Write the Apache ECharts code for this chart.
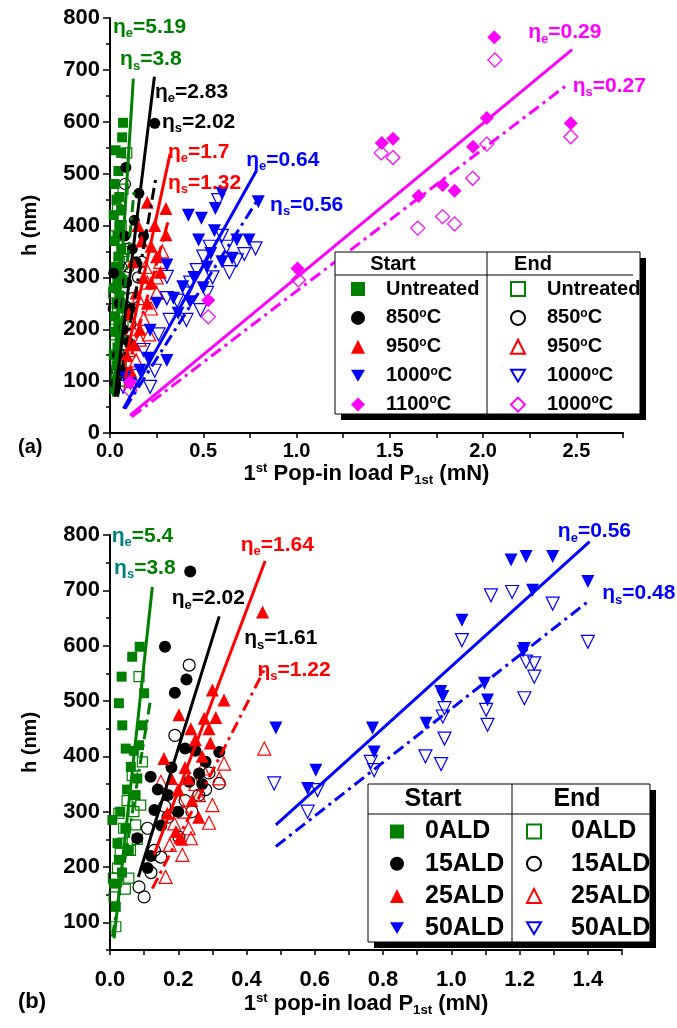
<!DOCTYPE html>
<html>
<head>
<meta charset="utf-8">
<script src="https://cdn.jsdelivr.net/npm/echarts@6/dist/echarts.min.js"></script>
<style>
  html, body { margin: 0; padding: 0; background: #fff; }
  #chart { width: 677px; height: 1028px; }
</style>
</head>
<body>
<div id="chart"></div>
<script>
// ---------- panel (a): h (nm) vs 1st pop-in load (mN), start / end ----------
const aUntreatedStart = [[0.07,598],[0.065,570],[0.03,545],[0.06,540],[0.045,505],[0.025,480],[0.05,455],[0.035,450],[0.06,430],[0.02,420],[0.05,400],[0.04,380],[0.025,370],[0.06,355],[0.045,340],[0.03,320],[0.055,300],[0.04,290],[0.02,280],[0.05,265],[0.035,250],[0.06,240],[0.025,225],[0.045,210],[0.03,195],[0.055,180],[0.04,165],[0.02,150],[0.035,130],[0.05,115],[0.03,100],[0.025,85]];
const aUntreatedEnd = [[0.09,540],[0.07,470],[0.04,430],[0.06,400],[0.03,380],[0.075,350],[0.05,330],[0.035,310],[0.065,290],[0.02,270],[0.05,250],[0.04,230],[0.07,215],[0.03,200],[0.055,185],[0.025,170],[0.045,150],[0.06,135],[0.035,120],[0.05,100]];
const a850Start = [[0.24,597],[0.085,512],[0.155,462],[0.02,308],[0.12,355],[0.05,250],[0.09,290],[0.14,330],[0.07,200],[0.11,240],[0.04,150],[0.06,120],[0.1,175],[0.03,95],[0.13,410],[0.18,380],[0.08,380]];
const a850End = [[0.08,480],[0.02,240],[0.03,280],[0.15,300],[0.07,150],[0.1,320],[0.05,200],[0.12,260],[0.04,120],[0.09,355],[0.06,320],[0.11,210],[0.17,330]];
const a950Start = [[0.3,433],[0.3,382],[0.2,445],[0.15,400],[0.22,360],[0.12,330],[0.18,300],[0.25,340],[0.14,270],[0.2,250],[0.1,230],[0.16,200],[0.13,170],[0.22,290],[0.27,310],[0.09,150],[0.17,370],[0.11,120],[0.24,400]];
const a950End = [[0.27,330],[0.25,300],[0.2,290],[0.15,260],[0.22,240],[0.18,220],[0.12,200],[0.16,180],[0.1,160],[0.14,140],[0.21,190],[0.08,120],[0.25,270],[0.19,320],[0.11,100],[0.28,350]];
const a1000Start = [[0.42,420],[0.49,414],[0.565,433],[0.6,462],[0.795,446],[0.68,372],[0.475,372],[0.54,346],[0.655,337],[0.305,324],[0.39,282],[0.43,253],[0.215,198],[0.205,144],[0.305,140],[0.08,108],[0.16,121],[0.365,231],[0.52,320],[0.745,372],[0.6,330],[0.45,300],[0.34,260],[0.5,280],[0.25,250],[0.56,390],[0.11,95]];
const a1000End = [[0.58,449],[0.78,356],[0.625,359],[0.465,314],[0.41,269],[0.5,340],[0.305,301],[0.305,260],[0.18,160],[0.215,89],[0.07,89],[0.41,218],[0.485,237],[0.68,333],[0.535,359],[0.36,255],[0.32,218],[0.52,270],[0.64,310],[0.72,345],[0.26,190],[0.15,110],[0.55,300],[0.43,290],[0.24,120],[0.6,380]];
const a1100Start = [[2.06,763],[2.02,607],[2.47,597],[1.517,567],[1.457,559],[1.946,552],[1.654,457],[1.783,478],[1.847,467],[1.005,317],[0.527,256],[0.107,98]];
const a1100End = [[2.063,719],[2.02,557],[2.47,571],[1.454,540],[1.517,531],[1.944,491],[1.65,395],[1.783,417],[1.847,403],[1.01,295],[0.527,224],[0.107,82]];

// fitted lines (a): [start point, end point]
const aFitUntreatedStart = [[0.018,70],[0.125,683]];
const aFitUntreatedEnd = [[0.03,90],[0.13,470]];
const aFit850Start = [[0.027,70],[0.238,687]];
const aFit850End = [[0.04,70],[0.245,490]];
const aFit950Start = [[0.08,134],[0.322,538]];
const aFit950End = [[0.08,105],[0.313,410]];
const aFit1000Start = [[0.072,47],[0.787,507]];
const aFit1000End = [[0.08,47],[0.796,452]];
const aFit1100Start = [[0.107,34],[2.477,739]];
const aFit1100End = [[0.116,31],[2.45,671]];

// annotations (a): [x, y, subscript, value]
const aNotesGreen = [[0.016,783,'e','5.19'],[0.054,720,'s','3.8']];
const aNotesBlack = [[0.241,657,'e','2.83'],[0.279,599,'s','2.02']];
const aNotesRed = [[0.311,542,'e','1.7'],[0.311,482,'s','1.32']];
const aNotesBlue = [[0.73,526,'e','0.64'],[0.858,440,'s','0.56']];
const aNotesMagenta = [[2.242,772,'e','0.29'],[2.48,669,'s','0.27']];

const aXTicks = [0, 0.5, 1.0, 1.5, 2.0, 2.5];
const aYTicks = [0, 100, 200, 300, 400, 500, 600, 700, 800];

// ---------- panel (b) ----------
const b0Start = [[0.087,598],[0.065,580],[0.034,544],[0.1,514],[0.026,496],[0.036,456],[0.095,456],[0.046,414],[0.07,410],[0.061,381],[0.08,360],[0.05,340],[0.007,285],[0.03,300],[0.022,243],[0.045,270],[0.026,213],[0.012,170],[0.017,128],[0.055,230],[0.035,190],[0.085,420],[0.075,330]];
const b0End = [[0.085,544],[0.095,390],[0.09,312],[0.026,297],[0.036,243],[0.022,198],[0.012,146],[0.017,92],[0.075,276],[0.05,320],[0.065,365],[0.04,270],[0.06,230],[0.03,225],[0.055,180],[0.045,160],[0.07,300],[0.01,180],[0.08,250]];
const b15Start = [[0.235,734],[0.161,598],[0.224,539],[0.19,515],[0.22,414],[0.32,408],[0.119,363],[0.08,252],[0.11,198],[0.261,369],[0.232,354],[0.13,303],[0.17,330],[0.15,275],[0.2,300],[0.14,340],[0.27,350],[0.25,410],[0.12,220],[0.18,380],[0.28,390]];
const b15End = [[0.232,565],[0.19,438],[0.32,351],[0.085,164],[0.1,146],[0.149,218],[0.202,254],[0.13,230],[0.17,290],[0.22,320],[0.26,330],[0.11,270],[0.29,370],[0.16,310],[0.12,190],[0.24,300],[0.28,340]];
const b25Start = [[0.447,661],[0.334,502],[0.3,520],[0.202,475],[0.237,450],[0.276,469],[0.294,424],[0.158,396],[0.193,264],[0.168,297],[0.22,380],[0.25,430],[0.27,400],[0.2,340],[0.24,320],[0.18,360],[0.29,450],[0.26,290],[0.21,250],[0.31,470],[0.23,360]];
const b25End = [[0.452,414],[0.334,387],[0.271,378],[0.149,354],[0.3,312],[0.217,300],[0.188,279],[0.237,252],[0.212,222],[0.163,182],[0.26,330],[0.32,360],[0.29,280],[0.2,320],[0.25,350],[0.23,270],[0.175,240]];
const b50Start = [[0.486,451],[0.603,375],[0.579,342],[1.175,755],[1.219,761],[1.297,761],[1.4,716],[1.238,700],[1.031,646],[0.969,517],[0.975,508],[1.106,502],[1.097,532],[1.214,595],[0.926,460],[0.769,451],[0.774,408],[1.21,590]];
const b50End = [[0.481,351],[0.608,339],[0.579,300],[1.116,691],[1.178,697],[1.297,676],[1.4,607],[1.031,610],[1.219,571],[1.243,568],[1.243,544],[1.214,505],[1.102,484],[1.106,457],[0.98,487],[0.975,472],[0.98,432],[0.924,400],[0.97,386],[0.764,390],[0.774,375]];

const bFit0Start = [[0.012,71],[0.124,706]];
const bFit0End = [[0.007,74],[0.118,500]];
const bFit15Start = [[0.083,182],[0.32,653]];
const bFit25Start = [[0.129,222],[0.4545,753]];
const bFit25End = [[0.124,161],[0.4516,556]];
const bFit50Start = [[0.486,276],[1.405,788]];
const bFit50End = [[0.486,237],[1.405,682]];

const bNotesGreen = [[0.005,798,'e','5.4'],[0.012,740,'s','3.8']];
const bNotesBlack = [[0.181,685,'e','2.02'],[0.393,613,'s','1.61']];
const bNotesRed = [[0.383,782,'e','1.64'],[0.432,556,'s','1.22']];
const bNotesBlue = [[1.312,806,'e','0.56'],[1.442,694,'s','0.48']];

const bXTicks = [0, 0.2, 0.4, 0.6, 0.8, 1.0, 1.2, 1.4];
const bYTicks = [100, 200, 300, 400, 500, 600, 700, 800];

// ---------- styling ----------
const FONT = '"Liberation Sans", Arial, sans-serif';
const GREEN = '#008000', BLACK = '#000000', RED = '#ff0000', BLUE = '#0000ff', MAGENTA = '#ff00ff', TEAL = '#008080';
const DASHDOT = [12, 5, 3, 5];
const DOWN_TRI = 'path://M0,0L20,0L10,17Z';

const chart = echarts.init(document.getElementById('chart'), null, { renderer: 'canvas' });

function pts(gi, name, data, symbol, color, filled, size, rotate) {
  return {
    type: 'scatter', name: name, xAxisIndex: gi, yAxisIndex: gi,
    data: data, symbol: symbol, symbolSize: size, symbolRotate: rotate || 0,
    itemStyle: filled
      ? { color: color, opacity: 1 }
      : { color: 'rgba(255,255,255,0)', borderColor: color, borderWidth: 1.2, opacity: 1 },
    z: filled ? 3 : 2, silent: true, animation: false
  };
}

function fit(gi, data, color, dashed) {
  return {
    type: 'line', xAxisIndex: gi, yAxisIndex: gi, data: data, symbol: 'none',
    lineStyle: { color: color, width: 3, type: dashed ? DASHDOT : 'solid', cap: 'butt' },
    z: 4, silent: true, animation: false
  };
}

function notes(gi, list, color, etaColor, fs) {
  return {
    type: 'scatter', xAxisIndex: gi, yAxisIndex: gi, symbolSize: 0, clip: false,
    silent: true, animation: false, z: 6,
    itemStyle: { opacity: 1 },
    data: list.map(n => ({ value: [n[0], n[1]], sub: n[2], val: n[3] })),
    label: {
      show: true, position: 'right', distance: 0, opacity: 1,
      formatter: p => '{e|η}{s|' + p.data.sub + '}{v|=' + p.data.val + '}',
      rich: {
        e: { fontSize: fs, fontWeight: 'bold', fontFamily: FONT, color: etaColor || color, lineHeight: 26 },
        s: { fontSize: fs * 0.62, fontWeight: 'bold', fontFamily: FONT, color: etaColor || color, lineHeight: 13, padding: [13, 0, 0, 0] },
        v: { fontSize: fs, fontWeight: 'bold', fontFamily: FONT, color: color, lineHeight: 26 }
      }
    }
  };
}

function near(v, list) { return list.some(t => Math.abs(t - v) < 1e-6); }

const axisText = { color: '#000', fontWeight: 'bold', fontFamily: FONT };
const supRich = (fs) => ({
  sup: { fontSize: fs * 0.6, fontWeight: 'bold', fontFamily: FONT, color: '#000', padding: [0, 0, fs * 0.5, 0] },
  sub: { fontSize: fs * 0.6, fontWeight: 'bold', fontFamily: FONT, color: '#000', padding: [fs * 0.55, 0, 0, 0] },
  n: { fontSize: fs, fontWeight: 'bold', fontFamily: FONT, color: '#000' }
});

const LABELS = {
  a_s0: 'Untreated', a_s1: '850{sup|o}C', a_s2: '950{sup|o}C', a_s3: '1000{sup|o}C', a_s4: '1100{sup|o}C',
  a_e0: 'Untreated', a_e1: '850{sup|o}C', a_e2: '950{sup|o}C', a_e3: '1000{sup|o}C', a_e4: '1000{sup|o}C',
  b_s0: '0ALD', b_s1: '15ALD', b_s2: '25ALD', b_s3: '50ALD',
  b_e0: '0ALD', b_e1: '15ALD', b_e2: '25ALD', b_e3: '50ALD'
};
// legend entries drawn with a downward triangle
const DOWN_NAMES = ['a_s3', 'a_e3', 'b_s3', 'b_e3'];

function legendBlock(names, left, top, fs, gap, textPad) {
  return {
    data: names.map(n => DOWN_NAMES.includes(n) ? { name: n, icon: DOWN_TRI } : { name: n }),
    left: left, top: top, orient: 'vertical', padding: 0,
    itemWidth: 14, itemHeight: 14, itemGap: gap, selectedMode: false, z: 20,
    formatter: n => LABELS[n],
    textStyle: {
      fontSize: fs, fontWeight: 'bold', fontFamily: FONT, color: '#000', lineHeight: fs,
      padding: [0, 0, 0, textPad],
      rich: { sup: { fontSize: fs * 0.6, fontWeight: 'bold', fontFamily: FONT, color: '#000', padding: [0, 0, fs * 0.45, 0] } }
    }
  };
}

function legendBox(x, y, w, h, divX, lineY, lineEnd, hx1, hx2, hy, fs) {
  return [
    { type: 'rect', z: 15, shape: { x: x + 6, y: y + 6, width: w, height: h }, style: { fill: '#000' } },
    { type: 'rect', z: 16, shape: { x: x, y: y, width: w, height: h }, style: { fill: '#fff', stroke: '#000', lineWidth: 1 } },
    { type: 'line', z: 17, shape: { x1: x, y1: lineY, x2: lineEnd, y2: lineY }, style: { stroke: '#000', lineWidth: 1 } },
    { type: 'line', z: 17, shape: { x1: divX, y1: y, x2: divX, y2: y + h }, style: { stroke: '#000', lineWidth: 1 } },
    { type: 'text', z: 17, x: hx1, y: hy, style: { text: 'Start', font: 'bold ' + fs + 'px ' + FONT, fill: '#000', align: 'center', verticalAlign: 'middle' } },
    { type: 'text', z: 17, x: hx2, y: hy, style: { text: 'End', font: 'bold ' + fs + 'px ' + FONT, fill: '#000', align: 'center', verticalAlign: 'middle' } }
  ];
}

const option = {
  backgroundColor: '#fff',
  animation: false,
  grid: [
    { left: 110, top: 18, width: 513, height: 415 },
    { left: 110, top: 535, width: 512, height: 415 },
    { left: 110, top: 535, width: 512, height: 415 }
  ],
  xAxis: [
    {
      gridIndex: 0, type: 'value', min: 0, max: 2.75, interval: 0.25,
      axisLine: { lineStyle: { color: '#000', width: 2 } },
      axisTick: { length: 5, lineStyle: { color: '#000', width: 1.5 } },
      splitLine: { show: false },
      axisLabel: Object.assign({ fontSize: 20, margin: 8, formatter: v => near(v, aXTicks) ? v.toFixed(1) : '' }, axisText),
      name: '1{sup|st} Pop-in load P{sub|1st} (mN)', nameLocation: 'middle', nameGap: 23,
      nameTextStyle: Object.assign({ fontSize: 22, rich: supRich(22) }, axisText)
    },
    {
      gridIndex: 1, type: 'value', min: 0, max: 1.5, interval: 0.1,
      axisLine: { lineStyle: { color: '#000', width: 2 } },
      axisTick: { length: 5, lineStyle: { color: '#000', width: 1.5 } },
      splitLine: { show: false },
      axisLabel: Object.assign({ fontSize: 22, margin: 19, formatter: v => near(v, bXTicks) ? v.toFixed(1) : '' }, axisText),
      name: '1{sup|st} pop-in load P{sub|1st} (mN)', nameLocation: 'middle', nameGap: 41,
      nameTextStyle: Object.assign({ fontSize: 22, rich: supRich(22) }, axisText)
    },
    { gridIndex: 2, type: 'value', min: 0, max: 1.5, show: false }
  ],
  yAxis: [
    {
      gridIndex: 0, type: 'value', min: 0, max: 800, interval: 100,
      axisLine: { lineStyle: { color: '#000', width: 2 } },
      axisTick: { length: 7, lineStyle: { color: '#000', width: 1.5 } },
      minorTick: { show: true, splitNumber: 2, length: 4, lineStyle: { color: '#000', width: 1.5 } },
      splitLine: { show: false },
      axisLabel: Object.assign({ fontSize: 22, margin: 10, formatter: v => near(v, aYTicks) ? String(v) : '' }, axisText),
      name: 'h (nm)', nameLocation: 'middle', nameGap: 70,
      nameTextStyle: Object.assign({ fontSize: 20 }, axisText)
    },
    {
      gridIndex: 1, type: 'value', min: 50, max: 800, interval: 50, position: 'left',
      axisLine: { lineStyle: { color: '#000', width: 2 } },
      axisTick: { length: 4, lineStyle: { color: '#000', width: 1.5 } },
      splitLine: { show: false },
      axisLabel: Object.assign({ fontSize: 22, margin: 10, formatter: v => near(v, bYTicks) ? String(v) : '' }, axisText),
      name: 'h (nm)', nameLocation: 'middle', nameGap: 70,
      nameTextStyle: Object.assign({ fontSize: 20 }, axisText)
    },
    {
      gridIndex: 2, type: 'value', min: 50, max: 800, position: 'left', offset: 0,
      axisLine: { show: false },
      axisTick: { length: 7, customValues: bYTicks, lineStyle: { color: '#000', width: 1.5 } },
      axisLabel: { show: false },
      splitLine: { show: false }
    }
  ],
  legend: [
    legendBlock(['a_s0', 'a_s1', 'a_s2', 'a_s3', 'a_s4'], 351, 279, 20, 8.4, 16),
    legendBlock(['a_e0', 'a_e1', 'a_e2', 'a_e3', 'a_e4'], 510, 279, 20, 8.4, 17),
    legendBlock(['b_s0', 'b_s1', 'b_s2', 'b_s3'], 390, 819, 25, 7.2, 16),
    legendBlock(['b_e0', 'b_e1', 'b_e2', 'b_e3'], 526, 819, 25, 7.2, 25)
  ],
  graphic: [].concat(
    legendBox(335, 252, 305, 162, 487, 275, 633, 393, 533, 264, 20),
    legendBox(368, 784, 282, 158, 512, 814, 650, 433, 577, 799, 25),
    [
      { type: 'text', x: 18, y: 447, style: { text: '(a)', font: 'bold 20px ' + FONT, fill: '#000', verticalAlign: 'middle' } },
      { type: 'text', x: 18, y: 1002, style: { text: '(b)', font: 'bold 22px ' + FONT, fill: '#000', verticalAlign: 'middle' } }
    ]
  ),
  series: [
    // (a) open markers first, then filled
    pts(0, 'a_e0', aUntreatedEnd, 'rect', GREEN, false, 10),
    pts(0, 'a_e1', a850End, 'circle', BLACK, false, 11),
    pts(0, 'a_e2', a950End, 'triangle', RED, false, 13),
    pts(0, 'a_e3', a1000End, 'triangle', BLUE, false, 13, 180),
    pts(0, 'a_e4', a1100End, 'diamond', MAGENTA, false, 14),
    pts(0, 'a_s0', aUntreatedStart, 'rect', GREEN, true, 10),
    pts(0, 'a_s1', a850Start, 'circle', BLACK, true, 11),
    pts(0, 'a_s2', a950Start, 'triangle', RED, true, 13),
    pts(0, 'a_s3', a1000Start, 'triangle', BLUE, true, 13, 180),
    pts(0, 'a_s4', a1100Start, 'diamond', MAGENTA, true, 14),
    fit(0, aFitUntreatedStart, GREEN, false), fit(0, aFitUntreatedEnd, GREEN, true),
    fit(0, aFit850Start, BLACK, false), fit(0, aFit850End, BLACK, true),
    fit(0, aFit950Start, RED, false), fit(0, aFit950End, RED, true),
    fit(0, aFit1000Start, BLUE, false), fit(0, aFit1000End, BLUE, true),
    fit(0, aFit1100Start, MAGENTA, false), fit(0, aFit1100End, MAGENTA, true),
    notes(0, aNotesGreen, GREEN, null, 21), notes(0, aNotesBlack, BLACK, null, 21),
    notes(0, aNotesRed, RED, null, 21), notes(0, aNotesBlue, BLUE, null, 21),
    notes(0, aNotesMagenta, MAGENTA, null, 21),
    // (b)
    pts(1, 'b_e0', b0End, 'rect', GREEN, false, 10),
    pts(1, 'b_e1', b15End, 'circle', BLACK, false, 12),
    pts(1, 'b_e2', b25End, 'triangle', RED, false, 13),
    pts(1, 'b_e3', b50End, 'triangle', BLUE, false, 13, 180),
    pts(1, 'b_s0', b0Start, 'rect', GREEN, true, 10),
    pts(1, 'b_s1', b15Start, 'circle', BLACK, true, 12),
    pts(1, 'b_s2', b25Start, 'triangle', RED, true, 13),
    pts(1, 'b_s3', b50Start, 'triangle', BLUE, true, 13, 180),
    fit(1, bFit0Start, GREEN, false), fit(1, bFit0End, GREEN, true),
    fit(1, bFit15Start, BLACK, false),
    fit(1, bFit25Start, RED, false), fit(1, bFit25End, RED, true),
    fit(1, bFit50Start, BLUE, false), fit(1, bFit50End, BLUE, true),
    notes(1, bNotesGreen, GREEN, TEAL, 21), notes(1, bNotesBlack, BLACK, null, 21),
    notes(1, bNotesRed, RED, null, 21), notes(1, bNotesBlue, BLUE, null, 21)
  ]
};

chart.setOption(option);
</script>
</body>
</html>
